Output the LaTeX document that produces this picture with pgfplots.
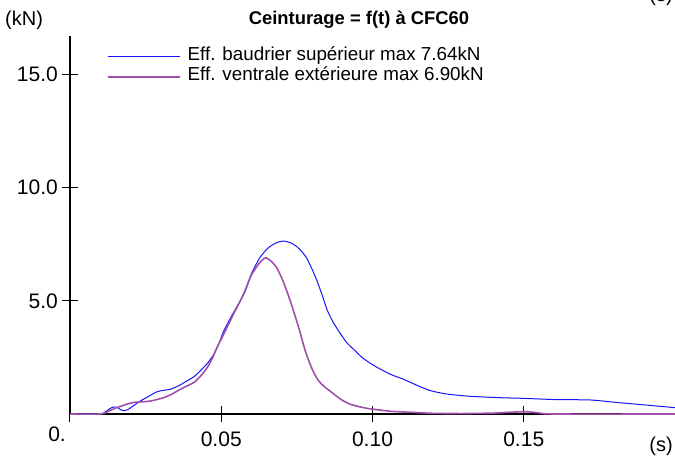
\documentclass[border=0pt]{standalone}
\usepackage{fontspec}
\setmainfont{Liberation Sans}
\usepackage{pgfplots}
\pgfplotsset{compat=1.18}
\definecolor{effblue}{RGB}{20,20,250}
\definecolor{effpurple}{RGB}{160,80,170}

\begin{document}
\begin{tikzpicture}
\begin{axis}[
    at={(70pt,45pt)}, anchor=south west,
    scale only axis, width=605pt, height=378pt,
    xmin=0, xmax=0.2, ymin=0, ymax=16.7,
    axis x line=bottom, axis y line=left,
    axis line style={-, line width=1.1pt, black},
    tick align=center, major tick length=16pt,
    tick style={black, line width=1pt},
    xtick={0,0.05,0.1,0.15}, xticklabels={,0.05,0.10,0.15},
    ytick={5,10,15}, yticklabels={5.0,10.0,15.0},
    /pgf/number format/assume math mode=true,
    ticklabel style={font=\fontsize{21}{24}\selectfont},
    xticklabel style={anchor=base, inner sep=0pt, yshift=-24.5pt},
    yticklabel style={anchor=east, inner sep=0pt, xshift=-4pt},
    legend style={draw=none, fill=none, at={(0.0612,0.971)}, anchor=north west,
      inner sep=0pt, outer sep=0pt, row sep=0pt, column sep=7pt,
      font=\fontsize{18.8}{19}\selectfont,
      nodes={inner sep=0pt, text height=14pt, text depth=6pt}},
    legend cell align=left,
    legend image code/.code={\draw[#1] (0pt,0pt) -- (72pt,0pt);},
    clip=false,
  ]
  \addplot[effblue, line width=1pt, smooth, tension=0.4] coordinates {
    (0,0) (0.0099,0) (0.0115,0.08) (0.0130,0.22) (0.0143,0.31) (0.0158,0.28)
    (0.0170,0.17) (0.0180,0.15) (0.0192,0.2) (0.0205,0.32) (0.0232,0.57)
    (0.0260,0.78) (0.0287,0.98) (0.0310,1.05) (0.0331,1.09) (0.0360,1.25)
    (0.0386,1.46) (0.0410,1.65) (0.0430,1.9) (0.0455,2.25) (0.0475,2.63)
    (0.0492,3.1) (0.0508,3.66) (0.0535,4.35) (0.0563,5.0) (0.0580,5.45)
    (0.0600,6.2) (0.0625,6.85) (0.0645,7.2) (0.0662,7.41) (0.0685,7.58)
    (0.0706,7.64) (0.0730,7.56) (0.0751,7.38) (0.0768,7.15) (0.0784,6.85)
    (0.0800,6.4) (0.0817,5.87) (0.0835,5.2) (0.0850,4.6) (0.0870,4.05)
    (0.0894,3.55) (0.0915,3.15) (0.0938,2.85) (0.0970,2.45) (0.1010,2.1)
    (0.1060,1.75) (0.1100,1.55) (0.1150,1.25) (0.1192,1.03) (0.1247,0.88)
    (0.1325,0.78) (0.1424,0.72) (0.1501,0.69) (0.1600,0.64) (0.1720,0.62)
    (0.1800,0.52) (0.1900,0.40) (0.2000,0.28)};
  \addlegendentry{Eff. baudrier supérieur max 7.64kN}
  \addplot[effpurple, line width=1.6pt, smooth, tension=0.4] coordinates {
    (0,0) (0.0099,0) (0.0120,0.08) (0.0149,0.25) (0.0180,0.4) (0.0210,0.51)
    (0.0265,0.57) (0.0309,0.72) (0.0340,0.9) (0.0364,1.09) (0.0408,1.38)
    (0.0430,1.65) (0.0453,2.04) (0.0470,2.45) (0.0486,2.94) (0.0513,3.66)
    (0.0540,4.4) (0.0563,5.0) (0.0580,5.5) (0.0600,6.15) (0.0625,6.65)
    (0.0646,6.90) (0.0665,6.75) (0.0684,6.45) (0.0705,5.85) (0.0728,5.0)
    (0.0756,3.82) (0.0778,2.78) (0.0800,2.0) (0.0820,1.5) (0.0840,1.22)
    (0.0861,1.0) (0.0895,0.65) (0.0927,0.43) (0.0970,0.28) (0.1004,0.21)
    (0.1060,0.12) (0.1136,0.07) (0.1200,0.03) (0.1300,0.02) (0.1400,0.04)
    (0.1460,0.08) (0.1510,0.1) (0.1550,0.05) (0.1600,0.0) (0.2000,0)};
  \addlegendentry{Eff. ventrale extérieure max 6.90kN}
\end{axis}
% labels outside the axis
\node[anchor=base east, inner sep=0pt, font=\fontsize{21}{24}\selectfont] at (66pt,17.5pt) {0.};
\node[anchor=base west, inner sep=0pt, font=\fontsize{20}{24}\selectfont] at (5pt,433pt) {(kN)};
\node[anchor=base east, inner sep=0pt, font=\fontsize{20}{24}\selectfont] at (673pt,8pt) {(s)};
\node[anchor=base east, inner sep=0pt, font=\fontsize{20}{24}\selectfont] at (673pt,457pt) {(s)};
\node[anchor=center, inner sep=0pt, font=\bfseries\fontsize{18.4}{20}\selectfont] at (359pt,439pt) {Ceinturage = f(t) à CFC60};
\pgfresetboundingbox
\path[use as bounding box] (0,0) rectangle (675pt,459pt);
\end{tikzpicture}
\end{document}
